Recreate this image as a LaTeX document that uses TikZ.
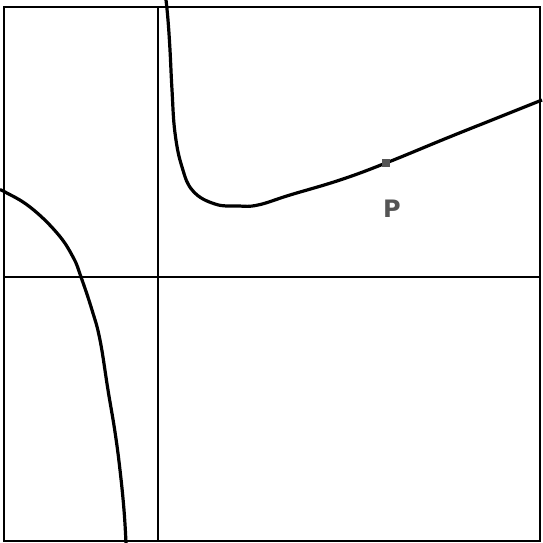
\documentclass[tikz,border=0pt]{standalone}
\usepackage{fontspec}
\newfontfamily\labfont{DejaVu Sans}
\usepackage{tikz}
\usetikzlibrary{positioning}
\definecolor{gpink}{HTML}{000000}
\definecolor{gpgray}{HTML}{555555}
\tikzset{
  frm/.style={draw=gpink,line width=2pt},
  axl/.style={draw=gpink,line width=1.3pt},
  crv/.style={draw=gpink,line width=3.2pt,line join=round},
  ptmark/.style={rectangle,fill=gpgray,minimum size=8pt,inner sep=0pt},
  ptlab/.style={font=\labfont\bfseries\fontsize{24}{24}\selectfont,text=gpgray},
}
\begin{document}
\begin{tikzpicture}[x=1pt,y=-1pt]
  \useasboundingbox (0,0) rectangle (542,543);
  \fill[white] (0,0) rectangle (542,543);

  % axes
  \draw[axl] (4,277) -- (540,277);
  \draw[axl] (158,7) -- (158,541);

  % right branch
  \draw[crv] plot[smooth,tension=0.7] coordinates {
    (166,0) (168,20) (170,50) (172,90) (175,133) (182,167) (193,191)
    (215,204) (238,206) (258,205) (290,195) (340,180) (386,163)
    (447,138) (497,118) (542,100)};

  % left branch
  \draw[crv] plot[smooth,tension=0.7] coordinates {
    (0,190) (5,192) (30,207) (57,233) (73,257) (81,277) (92,310)
    (100,340) (108,390) (115,432) (120,470) (124,510) (126,543)};

  % point P
  \node[ptmark] (P) at (386,163) {};
  \node[ptlab,below=46pt of P.center,anchor=center,xshift=6pt] (Plab) {P};

  % frame
  \draw[frm] (4,7) rectangle (540,541);
\end{tikzpicture}
\end{document}
